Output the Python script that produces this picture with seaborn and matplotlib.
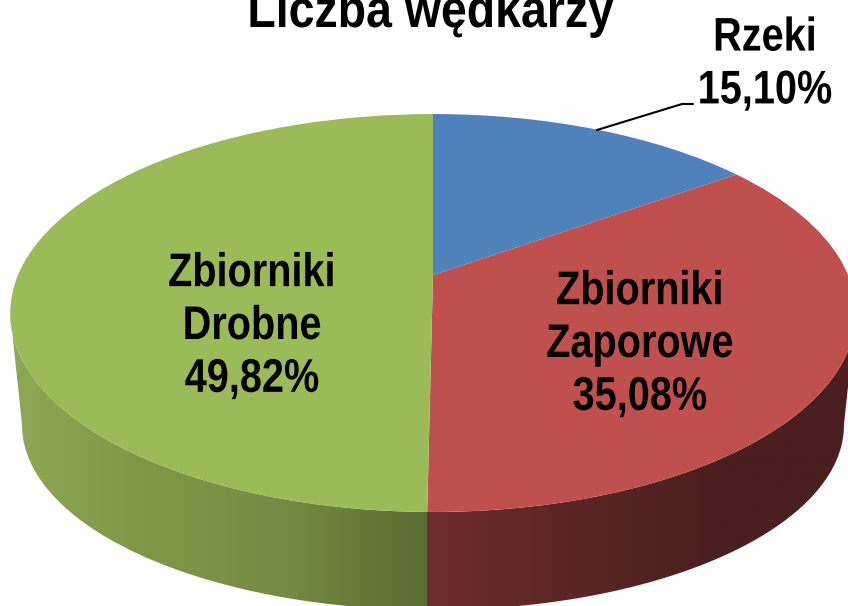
import numpy as np
import matplotlib
matplotlib.use('Agg')
import matplotlib.pyplot as plt
import seaborn as sns
from matplotlib.colors import LinearSegmentedColormap
from matplotlib.patches import Polygon
from matplotlib.patheffects import AbstractPathEffect
from matplotlib.transforms import Affine2D, Transform

title = 'Liczba wędkarzy'
categories = ['Rzeki', 'Zbiorniki\nZaporowe', 'Zbiorniki\nDrobne']
shares = [15.10, 35.08, 49.82]
colors = ['#4F81BD', '#C0504D', '#9BBB59']

green_wall = ['#8FA957', '#7F9848', '#748C42', '#5A6C33']
red_wall = ['#6E2D2D', '#5C2626', '#4B1F1F', '#4B1F1F']

sns.set_theme(style='white')
plt.rcParams['font.family'] = ['Liberation Sans']

# pie geometry in image pixels
CX, APEX_Y = 433, 275
SX, SY, K = 415, 191.7, 0.191


def project(u, v):
    # tilted disc: the far side gets squeezed, so the apex sits above the ellipse centre
    d = 1 + K * v
    return CX + SX * u / d, APEX_Y - SY * v / d


class TiltedDisc(Transform):
    input_dims = 2
    output_dims = 2

    def transform_non_affine(self, values):
        x, y = project(values[:, 0], values[:, 1])
        return np.column_stack([x, y])


class Narrow(AbstractPathEffect):
    # no narrow bold font here, so squeeze each text line around its centre
    def __init__(self, ratio):
        self.ratio = ratio

    def draw_path(self, renderer, gc, tpath, affine, rgbFace=None):
        box = tpath.get_extents(affine)
        mid = (box.x0 + box.x1) / 2
        squeeze = Affine2D().translate(-mid, 0).scale(self.ratio, 1).translate(mid, 0)
        renderer.draw_path(gc, tpath, affine + squeeze, rgbFace)


def lower_half(xs, ys):
    pts = np.column_stack([xs, ys])
    split = (ys[np.argmin(xs)] + ys[np.argmax(xs)]) / 2
    lower = pts[pts[:, 1] >= split]
    return lower[np.argsort(lower[:, 0])]


def label(i):
    return f'{categories[i]}\n{shares[i]:.2f}%'.replace('.', ',')


fig, ax = plt.subplots(figsize=(8.48, 6.06), dpi=100)
fig.subplots_adjust(0, 0, 1, 1)

wedges, _ = ax.pie(shares, colors=colors, startangle=90, counterclock=False,
                   wedgeprops={'linewidth': 0})
ax.set_aspect('auto')
for w in wedges:
    w.set_transform(TiltedDisc() + ax.transData)
    w.set_zorder(3)

# side wall between the rim and a slightly smaller lower rim
t = np.linspace(0, 2 * np.pi, 721)
rim_x, rim_y = project(np.cos(t), np.sin(t))
mid_y = (rim_y.max() + rim_y.min()) / 2
low_x = CX + (rim_x - CX) * 0.972
low_y = mid_y + 112 + (rim_y - mid_y) * 0.93
wall = np.vstack([lower_half(rim_x, rim_y), lower_half(low_x, low_y)[::-1]])

# slice border on the front of the pie
split_angle = np.radians(90 - 3.6 * (shares[0] + shares[1]))
split_x, _ = project(np.cos(split_angle), np.sin(split_angle))

cmap_g = LinearSegmentedColormap.from_list('g', green_wall)
cmap_r = LinearSegmentedColormap.from_list('r', red_wall)
grad = np.linspace(0, 1, 256).reshape(1, -1)
clip = Polygon(wall, closed=True, transform=ax.transData, facecolor='none', edgecolor='none')
ax.add_patch(clip)
ax.imshow(grad, cmap=cmap_g, extent=(0, split_x, 620, 300), aspect='auto', clip_path=clip, zorder=2)
ax.imshow(grad, cmap=cmap_r, extent=(split_x, 860, 620, 300), aspect='auto', clip_path=clip, zorder=2)
ax.set_xlim(0, 848)
ax.set_ylim(606, 0)

# labels
label_kw = dict(ha='center', va='center', color='black', fontweight='bold', fontsize=34,
                linespacing=1.26, zorder=5, path_effects=[Narrow(0.84)])
ax.text(765, 65, label(0), **label_kw)
ax.text(640, 345, label(1), **label_kw)
ax.text(252, 327, label(2), **label_kw)
ax.text(430, 27, title, ha='center', va='baseline', color='black', fontweight='bold',
        fontsize=38, zorder=5, path_effects=[Narrow(0.88)])

# leader line to the small slice
ax.plot([597, 682, 693], [130, 104, 104], color='black', lw=1.5, zorder=4)

fig.savefig('out.png', dpi=100)
